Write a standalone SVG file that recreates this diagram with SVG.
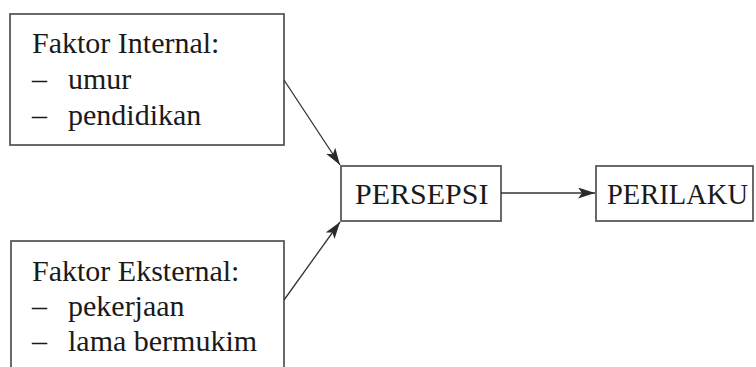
<svg xmlns="http://www.w3.org/2000/svg" width="756" height="367" viewBox="0 0 756 367">
<defs>
<style>
.box{fill:#fff;stroke:#5a5a5a;stroke-width:1.8}
.t{font-size:30px;fill:#1a1a1a}
.c{stroke:#333;stroke-width:1.3;fill:none}
</style>
<marker id="ah" viewBox="0 0 17 11" refX="17" refY="5.5" markerWidth="17" markerHeight="11" markerUnits="userSpaceOnUse" orient="auto">
<path d="M0,0 L17,5.5 L0,11 L4,5.5 Z" fill="#2a2a2a"/>
</marker>
</defs>
<rect width="756" height="367" fill="#fff"/>
<g font-family="Liberation Serif, Times New Roman, serif">
<g id="internal">
<rect class="box" x="10" y="14" width="274" height="131"/>
<text class="t" x="32" y="53">Faktor Internal:</text>
<text class="t" x="32" y="89">–</text>
<text class="t" x="68" y="89">umur</text>
<text class="t" x="32" y="125">–</text>
<text class="t" x="68" y="125">pendidikan</text>
</g>
<g id="eksternal">
<rect class="box" x="11" y="241" width="273" height="140"/>
<text class="t" x="32" y="281">Faktor Eksternal:</text>
<text class="t" x="32" y="316">–</text>
<text class="t" x="68" y="316">pekerjaan</text>
<text class="t" x="32" y="351">–</text>
<text class="t" x="68" y="351">lama bermukim</text>
</g>
<g id="persepsi">
<rect class="box" x="341" y="166" width="160" height="55"/>
<text class="t" x="355" y="204">PERSEPSI</text>
</g>
<g id="perilaku">
<rect class="box" x="596" y="166" width="157" height="55"/>
<text class="t" x="607" y="204" textLength="141" lengthAdjust="spacingAndGlyphs">PERILAKU</text>
</g>
</g>
<g id="connectors">
<line class="c" x1="284" y1="80" x2="340" y2="165" marker-end="url(#ah)"/>
<line class="c" x1="284" y1="300" x2="340" y2="222" marker-end="url(#ah)"/>
<line class="c" x1="501" y1="193" x2="595" y2="193" marker-end="url(#ah)"/>
</g>
</svg>
